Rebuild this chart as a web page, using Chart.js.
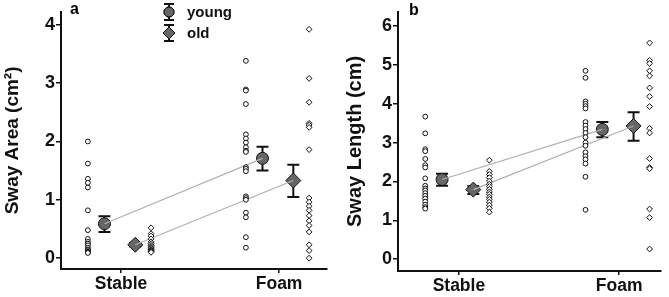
<!DOCTYPE html>
<html>
<head>
<meta charset="utf-8">
<script src="https://cdn.jsdelivr.net/npm/chart.js@4/dist/chart.umd.min.js"></script>
<style>
  body { margin: 0; background: #fff; }
  #wrap { position: relative; width: 669px; height: 297px; }
  canvas { position: absolute; top: 0; }
  .tag { position: absolute; font: bold 16px "Liberation Sans", Arial, sans-serif; }
</style>
</head>
<body>
<div id="wrap">
  <canvas id="chartA" width="335" height="297" style="left:0"></canvas>
  <canvas id="chartB" width="334" height="297" style="left:335px"></canvas>
  <div class="tag" style="left:70px;top:0px">a</div>
  <div class="tag" style="left:409px;top:1px">b</div>
</div>
<script>
// categories and ticks
const categories = ['Stable', 'Foam'];
const groups = ['young', 'old'];
const areaTicks = [0, 1, 2, 3, 4];
const lengthTicks = [0, 1, 2, 3, 4, 5, 6];

// Sway area, individual values
const areaYoungStable = [2.0, 1.62, 1.36, 1.29, 1.21, 0.82, 0.48, 0.33, 0.28, 0.25, 0.22, 0.18, 0.15, 0.14, 0.12, 0.11, 0.10, 0.09];
const areaOldStable = [0.52, 0.42, 0.38, 0.33, 0.28, 0.25, 0.22, 0.20, 0.18, 0.17, 0.15, 0.14, 0.13, 0.12, 0.11, 0.10];
const areaYoungFoam = [3.38, 2.89, 2.87, 2.64, 2.12, 2.05, 1.98, 1.90, 1.84, 1.82, 1.56, 1.53, 1.49, 1.06, 1.03, 1.0, 0.78, 0.70, 0.36, 0.18];
const areaOldFoam = [3.92, 3.08, 2.67, 2.31, 2.28, 2.24, 1.86, 1.03, 0.96, 0.89, 0.82, 0.73, 0.64, 0.56, 0.45, 0.23, 0.13, 0.0];
// Sway area, means and error bars (Stable, Foam)
const areaMeanYoung = [0.59, 1.71];
const areaLoYoung = [0.45, 1.50];
const areaHiYoung = [0.72, 1.91];
const areaMeanOld = [0.23, 1.33];
const areaLoOld = [0.20, 1.05];
const areaHiOld = [0.26, 1.60];

// Sway length, individual values
const lengthYoungStable = [3.67, 3.24, 2.83, 2.78, 2.58, 2.42, 2.36, 2.08, 1.89, 1.82, 1.77, 1.70, 1.63, 1.56, 1.48, 1.40, 1.34, 1.30];
const lengthOldStable = [2.55, 2.26, 2.18, 2.10, 2.01, 1.93, 1.87, 1.80, 1.73, 1.67, 1.60, 1.54, 1.47, 1.39, 1.31, 1.21];
const lengthYoungFoam = [4.85, 4.67, 4.06, 4.0, 3.94, 3.88, 3.53, 3.44, 3.35, 3.25, 3.14, 3.0, 2.92, 2.75, 2.65, 2.57, 2.46, 2.12, 1.27];
const lengthOldFoam = [5.57, 5.12, 5.04, 4.85, 4.72, 4.41, 4.19, 3.93, 3.37, 3.25, 2.59, 2.36, 2.33, 1.29, 1.07, 0.26];
// Sway length, means and error bars
const lengthMeanYoung = [2.05, 3.34];
const lengthLoYoung = [1.89, 3.14];
const lengthHiYoung = [2.20, 3.53];
const lengthMeanOld = [1.79, 3.43];
const lengthLoOld = [1.68, 3.05];
const lengthHiOld = [1.88, 3.78];

const FONT = '"Liberation Sans", Arial, sans-serif';
const MEAN_FILL = '#666666';
// horizontal offsets from the category position
const OFF_IND_Y = -0.21, OFF_MEAN_Y = -0.105, OFF_MEAN_O = 0.09, OFF_IND_O = 0.19;

function column(values, x) {
  return values.map(v => ({ x: x, y: v }));
}

function meanPts(means, off) {
  return means.map((v, i) => ({ x: i + 1 + off, y: v }));
}

// error bar whiskers through the mean markers
const errorBars = {
  id: 'errorBars',
  beforeDatasetsDraw(chart, args, opts) {
    const ctx = chart.ctx, xs = chart.scales.x, ys = chart.scales.y;
    ctx.save();
    ctx.strokeStyle = '#111';
    ctx.lineWidth = 2;
    opts.sets.forEach(s => {
      s.lo.forEach((lo, i) => {
        const px = xs.getPixelForValue(i + 1 + s.off);
        const p1 = ys.getPixelForValue(lo), p2 = ys.getPixelForValue(s.hi[i]);
        ctx.beginPath();
        ctx.moveTo(px, p1); ctx.lineTo(px, p2);
        ctx.moveTo(px - 6, p1); ctx.lineTo(px + 6, p1);
        ctx.moveTo(px - 6, p2); ctx.lineTo(px + 6, p2);
        ctx.stroke();
      });
    });
    ctx.restore();
  }
};

// legend with error bar icons
const legendIcons = {
  id: 'legendIcons',
  afterDraw(chart, args, opts) {
    if (!opts.show) return;
    const ctx = chart.ctx;
    ctx.save();
    const rows = [{ y: 12, style: 'circle', r: 5 }, { y: 33, style: 'rectRot', r: 6 }];
    rows.forEach((row, i) => {
      const x = 169;
      ctx.strokeStyle = '#111';
      ctx.lineWidth = 2;
      ctx.beginPath();
      ctx.moveTo(x, row.y - 8); ctx.lineTo(x, row.y + 8);
      ctx.moveTo(x - 5, row.y - 8); ctx.lineTo(x + 5, row.y - 8);
      ctx.moveTo(x - 5, row.y + 8); ctx.lineTo(x + 5, row.y + 8);
      ctx.stroke();
      ctx.fillStyle = MEAN_FILL;
      ctx.lineWidth = 1;
      Chart.helpers.drawPoint(ctx, { pointStyle: row.style, radius: row.r, borderWidth: 1 }, x, row.y);
      ctx.fill();
      ctx.stroke();
      ctx.fillStyle = '#111';
      ctx.font = 'bold 15px ' + FONT;
      ctx.textBaseline = 'middle';
      ctx.fillText(groups[i], 187, row.y + 1);
    });
    ctx.restore();
  }
};

function makeChart(id, d, cfg) {
  const ind = { backgroundColor: '#fff', borderColor: '#111', borderWidth: 1, pointRadius: 2.4 };
  const datasets = [
    Object.assign({ data: column(d.ys, 1 + OFF_IND_Y), pointStyle: 'circle' }, ind),
    Object.assign({ data: column(d.os, 1 + OFF_IND_O), pointStyle: 'rectRot' }, ind, { pointRadius: 2.9 }),
    Object.assign({ data: column(d.yf, 2 + OFF_IND_Y), pointStyle: 'circle' }, ind),
    Object.assign({ data: column(d.of, 2 + OFF_IND_O), pointStyle: 'rectRot' }, ind, { pointRadius: 2.9 }),
    { type: 'line', data: meanPts(d.my, OFF_MEAN_Y), borderColor: '#b0b0b0', borderWidth: 1.2, pointRadius: 0, fill: false },
    { type: 'line', data: meanPts(d.mo, OFF_MEAN_O), borderColor: '#b0b0b0', borderWidth: 1.2, pointRadius: 0, fill: false },
    { data: meanPts(d.my, OFF_MEAN_Y), pointStyle: 'circle', pointRadius: 6, backgroundColor: MEAN_FILL, borderColor: '#111', borderWidth: 1 },
    { data: meanPts(d.mo, OFF_MEAN_O), pointStyle: 'rectRot', pointRadius: 7.5, backgroundColor: MEAN_FILL, borderColor: '#111', borderWidth: 1 }
  ];
  return new Chart(document.getElementById(id), {
    type: 'scatter',
    data: { datasets: datasets },
    plugins: [errorBars, legendIcons],
    options: {
      responsive: false,
      animation: false,
      devicePixelRatio: 1,
      layout: { padding: { top: 0, right: cfg.padRight, left: 0, bottom: 0 } },
      plugins: {
        legend: { display: false },
        tooltip: { enabled: false },
        errorBars: { sets: [
          { off: OFF_MEAN_Y, lo: d.loY, hi: d.hiY },
          { off: OFF_MEAN_O, lo: d.loO, hi: d.hiO }
        ] },
        legendIcons: { show: cfg.legend }
      },
      scales: {
        x: {
          type: 'linear',
          min: 0.62, max: cfg.xMax,
          afterBuildTicks: s => { s.ticks = categories.map((c, i) => ({ value: i + 1 })); },
          afterFit: s => { s.height = cfg.xHeight; },
          ticks: { callback: v => categories[v - 1], color: '#111', font: { family: FONT, size: 17.5, weight: 'bold' }, padding: 1, maxRotation: 0 },
          grid: { drawOnChartArea: false, drawTicks: true, tickLength: 4, color: '#111', lineWidth: 1.5 },
          border: { display: true, color: '#111', width: 2 }
        },
        y: {
          min: cfg.yMin, max: cfg.yMax,
          afterBuildTicks: s => { s.ticks = cfg.ticks.map(v => ({ value: v })); },
          afterFit: s => { s.width = cfg.yWidth; },
          ticks: { color: '#111', font: { family: FONT, size: 18, weight: 'bold' }, padding: 1 },
          grid: { drawOnChartArea: false, drawTicks: true, tickLength: 5, color: '#111', lineWidth: 1.5 },
          border: { display: true, color: '#111', width: 2 },
          title: { display: true, text: cfg.title, color: '#111', font: { family: FONT, size: cfg.titleSize, weight: 'bold' }, padding: cfg.titlePad }
        }
      }
    }
  });
}

makeChart('chartA', {
  ys: areaYoungStable, os: areaOldStable, yf: areaYoungFoam, of: areaOldFoam,
  my: areaMeanYoung, mo: areaMeanOld,
  loY: areaLoYoung, hiY: areaHiYoung, loO: areaLoOld, hiO: areaHiOld
}, { title: 'Sway Area (cm²)', ticks: areaTicks, yMin: -0.185, yMax: 4.22, xMax: 2.30, yWidth: 61, xHeight: 28, padRight: 0, titleSize: 19, titlePad: 1, legend: true });

makeChart('chartB', {
  ys: lengthYoungStable, os: lengthOldStable, yf: lengthYoungFoam, of: lengthOldFoam,
  my: lengthMeanYoung, mo: lengthMeanOld,
  loY: lengthLoYoung, hiY: lengthHiYoung, loO: lengthLoOld, hiO: lengthHiOld
}, { title: 'Sway Length (cm)', ticks: lengthTicks, yMin: -0.306, yMax: 6.37, xMax: 2.258, yWidth: 63, xHeight: 26, padRight: 4, titleSize: 20, titlePad: 8, legend: false });
</script>
</body>
</html>
